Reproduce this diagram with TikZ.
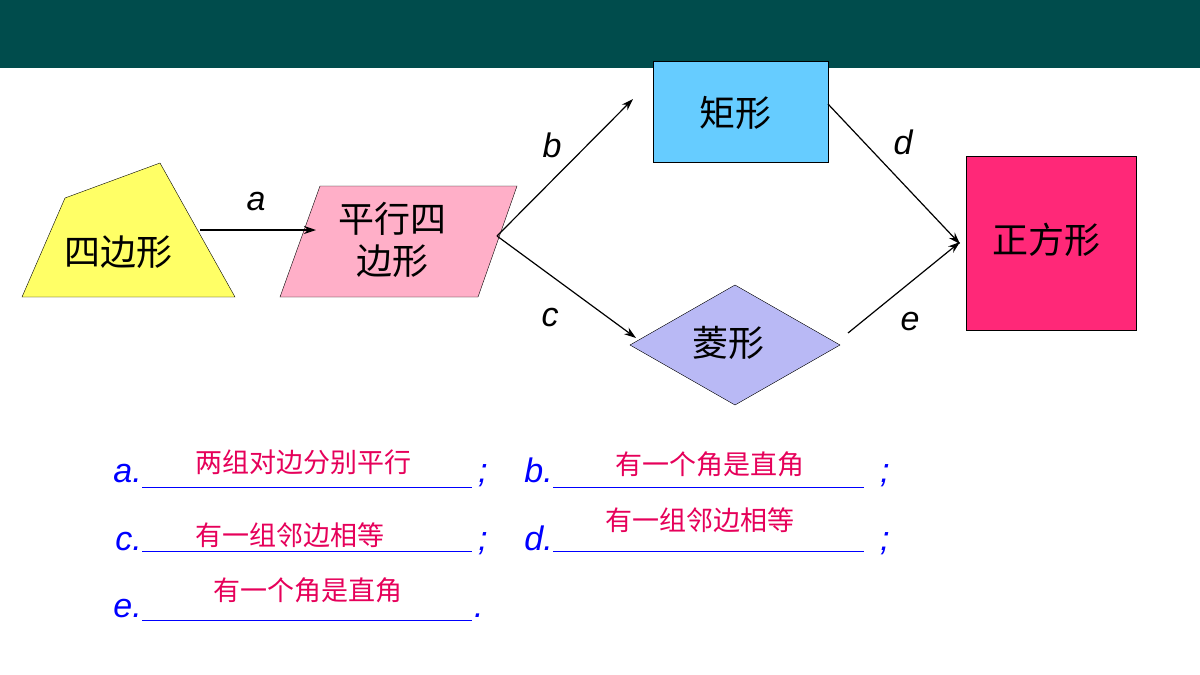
\documentclass[tikz,border=0pt]{standalone}
\usepackage{fontspec}
\setmainfont{Liberation Sans}
\newfontfamily\cjk{Noto Sans CJK SC}
\usetikzlibrary{arrows.meta}
\definecolor{barteal}{RGB}{0,76,76}
\definecolor{quadyellow}{RGB}{255,255,102}
\definecolor{parapink}{RGB}{255,175,200}
\definecolor{rectblue}{RGB}{102,204,255}
\definecolor{rhomblav}{RGB}{185,185,245}
\definecolor{sqpink}{RGB}{255,40,120}
\definecolor{ansred}{RGB}{230,0,90}
\tikzset{
  shapelbl/.style={font=\cjk\fontsize{36}{42}\selectfont, align=center, inner sep=0pt},
  conn/.style={-{Stealth[length=12pt,width=8pt]}, line width=1.2pt},
  arrlbl/.style={font=\itshape\fontsize{34}{36}\selectfont},
  qlbl/.style={font=\itshape\fontsize{34}{36}\selectfont, text=blue, anchor=base east, inner sep=0pt},
  anstxt/.style={font=\cjk\fontsize{27}{30}\selectfont, text=ansred, anchor=base, inner sep=0pt},
  blank/.style={draw=blue, line width=1pt},
}
\begin{document}
\begin{tikzpicture}[x=1pt,y=-1pt]
\useasboundingbox (0,0) rectangle (1200,675);
\fill[white] (0,0) rectangle (1200,675);
\fill[barteal] (0,0) rectangle (1200,68);

% shapes
\draw[fill=quadyellow] (22,297) -- (65,198) -- (160,163) -- (235,297) -- cycle;
\draw[fill=parapink] (280,297) -- (320,186) -- (517,186) -- (478,297) -- cycle;
\draw[fill=rectblue] (653,61) rectangle (828,162);
\draw[fill=rhomblav] (630,345) -- (735,285) -- (840,345) -- (735,405) -- cycle;
\draw[fill=sqpink] (966,156) rectangle (1136,330);

\node[shapelbl] (quad) at (118,252) {四边形};
\node[shapelbl] (para) at (392,240) {平行四\\边形};
\node[shapelbl] (rect) at (735,113) {矩形};
\node[shapelbl] (rhomb) at (728,343) {菱形};
\node[shapelbl] (square) at (1046,240) {正方形};

\coordinate (aS) at (200,230); \coordinate (aE) at (316,230);
\coordinate (pR) at (497,236);
\coordinate (bE) at (633,99); \coordinate (cE) at (636,338);
\coordinate (rR) at (828,104); \coordinate (dE) at (960,244);
\coordinate (hR) at (848,333); \coordinate (eE) at (960,242);
\draw[conn] (aS) -- (aE);
\draw[conn] (pR) -- (bE);
\draw[conn] (pR) -- (cE);
\draw[conn] (rR) -- (dE);
\draw[conn] (hR) -- (eE);

\node[arrlbl] (la) at (256,202) {a};
\node[arrlbl] (lb) at (552,145) {b};
\node[arrlbl] (lc) at (550,318) {c};
\node[arrlbl] (ld) at (903,142) {d};
\node[arrlbl] (le) at (910,322) {e};

% answers
\node[qlbl] (qa) at (142,482) {a.};
\draw[blank] (142,487) -- (472,487);
\node[qlbl, anchor=base west] (sa) at (478,482) {;};
\node[anstxt] (ra) at (303,472) {两组对边分别平行};
\node[qlbl] (qb) at (553,482) {b.};
\draw[blank] (553,487) -- (864,487);
\node[qlbl, anchor=base west] (sb) at (880,482) {;};
\node[anstxt] (rb) at (710,474) {有一个角是直角};

\node[qlbl] (qc) at (142,550) {c.};
\draw[blank] (142,551) -- (472,551);
\node[qlbl, anchor=base west] (sc) at (478,550) {;};
\node[anstxt] (rc) at (290,545) {有一组邻边相等};
\node[qlbl] (qd) at (553,550) {d.};
\draw[blank] (553,551) -- (864,551);
\node[qlbl, anchor=base west] (sd) at (880,550) {;};
\node[anstxt] (rd) at (700,530) {有一组邻边相等};

\node[qlbl] (qe) at (142,617) {e.};
\draw[blank] (142,620) -- (472,620);
\node[qlbl, anchor=base west] (se) at (474,617) {.};
\node[anstxt] (re) at (308,600) {有一个角是直角};
\end{tikzpicture}
\end{document}
